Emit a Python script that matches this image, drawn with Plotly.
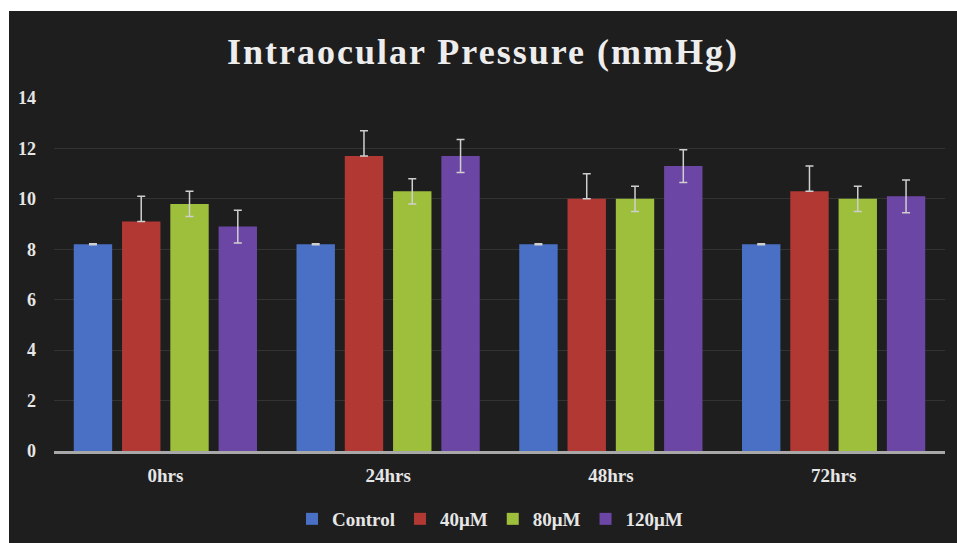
import plotly.graph_objects as go

categories = ["0hrs", "24hrs", "48hrs", "72hrs"]
series_names = ["Control", "40\u03bcM", "80\u03bcM", "120\u03bcM"]
control = [8.2, 8.2, 8.2, 8.2]
uM40 = [9.1, 11.7, 10.0, 10.3]
uM80 = [9.8, 10.3, 10.0, 10.0]
uM120 = [8.9, 11.7, 11.3, 10.1]
err_control = [0.02, 0.02, 0.02, 0.02]
err_40 = [1.0, 1.0, 1.0, 1.0]
err_80 = [0.5, 0.5, 0.5, 0.5]
err_120 = [0.65, 0.65, 0.65, 0.65]
y_ticks = [0, 2, 4, 6, 8, 10, 12, 14]

colors = ["#4a70c6", "#b23834", "#9dbf3c", "#6c46a4"]
FONT = "Liberation Serif, Times New Roman, serif"
TXT = "#e6e6e6"
BG = "#1e1e1e"

fig = go.Figure()
values = [control, uM40, uM80, uM120]
errs = [err_control, err_40, err_80, err_120]
for i, (name, vals, err) in enumerate(zip(series_names, values, errs)):
    ed = dict(type="data", array=err, color="#cfcfcf", thickness=1.5, width=4)
    if i == 1:
        ed.update(symmetric=False, arrayminus=[0] * len(err))
    fig.add_trace(go.Bar(
        x=categories, y=vals, name=name,
        marker=dict(color=colors[i], line=dict(width=0)),
        error_y=ed,
    ))

W, H = 957, 543          # visible window
EXTRA = 4                # paper extends a little past the window edge
FW, FH = W + EXTRA, H + EXTRA
L, R, T, B = 54, 12 + EXTRA, 98, 92 + EXTRA
pw, ph = FW - L - R, FH - T - B

def px_x(p):
    return (p - L) / pw

def px_y(p):
    return (T + ph - p) / ph

shapes = [
    dict(type="rect", xref="paper", yref="paper", x0=px_x(-2), x1=px_x(9),
         y0=px_y(FH + 2), y1=px_y(-2), fillcolor="white", line=dict(width=0), layer="above"),
    dict(type="rect", xref="paper", yref="paper", x0=px_x(-2), x1=px_x(FW + 2),
         y0=px_y(11), y1=px_y(-2), fillcolor="white", line=dict(width=0), layer="above"),
]

fig.update_layout(
    width=FW, height=FH,
    margin=dict(l=L, r=R, t=T, b=B, pad=0, autoexpand=False),
    paper_bgcolor=BG, plot_bgcolor=BG,
    barmode="group", bargap=0.133, bargroupgap=0.205,
    title=dict(text="Intraocular Pressure (mmHg)", x=px_x(483), xref="paper", xanchor="center",
               y=1 - 51 / FH, yanchor="middle",
               font=dict(family=FONT, size=36, color="#ededed", weight="bold")),
    font=dict(family=FONT, color=TXT, size=18, weight="bold"),
    xaxis=dict(showline=True, linecolor="#a8a8a8", linewidth=2.5, ticks="",
               tickfont=dict(family=FONT, size=19, color=TXT, weight="bold"),
               ticklabelstandoff=5, showgrid=False, automargin=False),
    yaxis=dict(range=[0, 14], tickvals=y_ticks, showgrid=True, gridcolor="#333333",
               gridwidth=1, zeroline=False, showline=False, ticks="",
               ticklabelstandoff=17, automargin=False,
               tickfont=dict(family=FONT, size=18, color=TXT, weight="bold")),
    legend=dict(orientation="h", x=px_x(490), xanchor="center", y=px_y(519), yanchor="middle",
                font=dict(family=FONT, size=19, color=TXT, weight="bold"),
                itemwidth=30, bgcolor="rgba(0,0,0,0)"),
    shapes=shapes,
)

post = ("document.documentElement.style.overflow='hidden';"
        "document.body.style.margin='0';document.body.style.padding='0';"
        "var t=document.querySelector('.gtitle');if(t){t.style.letterSpacing='2px';}")

fig.write_html("out.html", post_script=post, config={"displayModeBar": False})
